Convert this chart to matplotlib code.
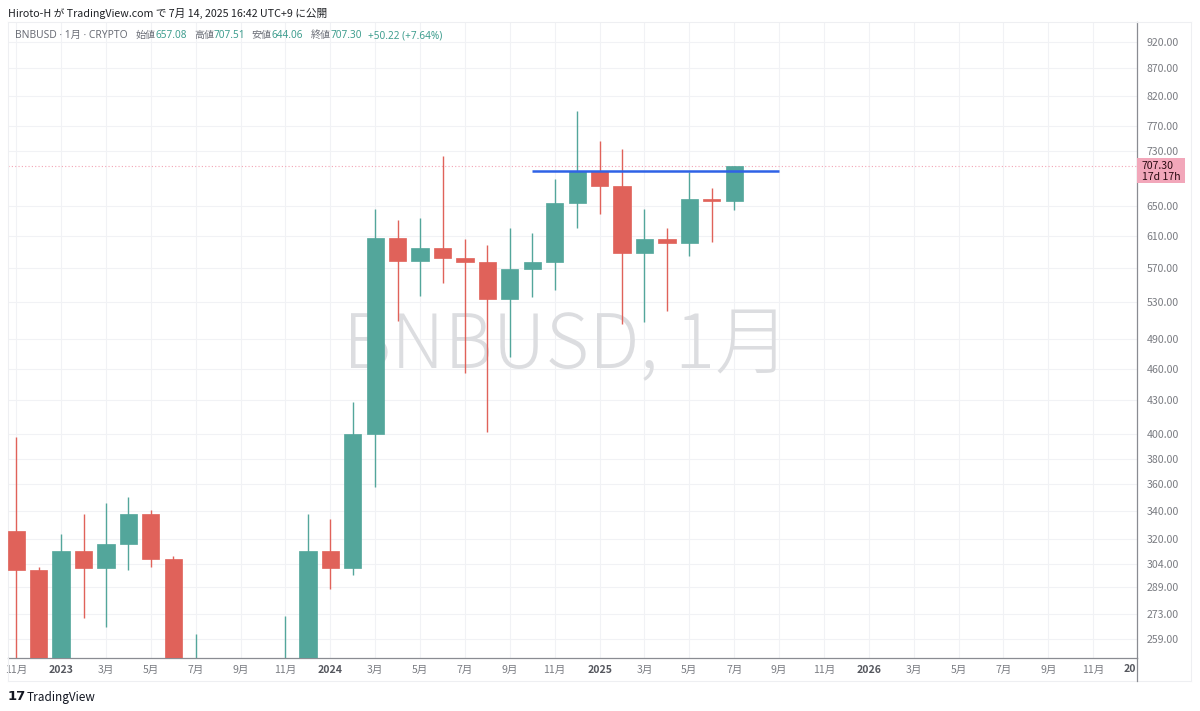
import matplotlib
matplotlib.use("Agg")
import matplotlib.pyplot as plt
from matplotlib.patches import Rectangle
import numpy as np

plt.rcParams['font.family'] = ['Noto Sans CJK JP', 'DejaVu Sans']

# ---- data (monthly BNBUSD, index 0 = Nov 2022) ----
months = ['2022-11', '2022-12', '2023-01', '2023-02', '2023-03', '2023-04', '2023-05',
          '2023-06', '2023-07', '2023-08', '2023-09', '2023-10', '2023-11', '2023-12',
          '2024-01', '2024-02', '2024-03', '2024-04', '2024-05', '2024-06', '2024-07',
          '2024-08', '2024-09', '2024-10', '2024-11', '2024-12', '2025-01', '2025-02',
          '2025-03', '2025-04', '2025-05', '2025-06', '2025-07']
opens = [326, 300, 246, 312, 301, 317, 338, 307, 240, 242, 216, 215, 227, 228,
         312, 301, 400, 607, 578, 594, 582, 577, 533, 568, 577, 654, 700, 678,
         588, 606, 600, 659, 657.08]
highs = [398, 302, 324, 338, 346, 350, 341, 309, 262, 245, 222, 230, 272, 338,
         334, 428, 645, 630, 633, 722, 606, 598, 620, 613, 688, 795, 746, 733,
         645, 620, 698, 675, 707.51]
lows = [240, 220, 237, 271, 266, 300, 302, 220, 226, 203, 202, 203, 223, 226,
        288, 297, 358, 509, 537, 552, 456, 402, 471, 535, 543, 620, 639, 506,
        508, 520, 584, 602, 644.06]
closes = [300, 246, 312, 301, 317, 338, 307, 240, 242, 216, 215, 227, 228, 312,
          301, 400, 607, 578, 594, 582, 577, 533, 568, 577, 654, 700, 678, 588,
          606, 600, 659, 657.08, 707.30]

y_ticks = [259, 273, 289, 304, 320, 340, 360, 380, 400, 430, 460, 490, 530, 570,
           610, 650, 730, 770, 820, 870, 920]
x_tick_labels = ['11月', '2023', '3月', '5月', '7月', '9月', '11月',
                 '2024', '3月', '5月', '7月', '9月', '11月',
                 '2025', '3月', '5月', '7月', '9月', '11月',
                 '2026', '3月', '5月', '7月', '9月', '11月']
resistance = 700.0
resistance_span = (23, 34)
last_price = 707.30

UP = '#53a69b'
DOWN = '#e0625a'

W, H = 1200, 711
fig = plt.figure(figsize=(12, 7.11), dpi=100)
fig.patch.set_facecolor('white')

L, R, T, B = 8, 1137, 22, 658
ax = fig.add_axes([L / W, 1 - B / H, (R - L) / W, (B - T) / H])
ax.set_yscale('log')
ax.set_xlim(-0.366, 49.95)
ax.set_ylim(248.8, 960)

# grid
for i in range(0, 50, 2):
    ax.axvline(i, color='#f1f2f5', lw=0.8, zorder=0)
for v in y_ticks:
    ax.axhline(v, color='#f1f2f5', lw=0.8, zorder=0)

# watermark
ax.text(0.495, 0.488, 'BNBUSD, 1月', transform=ax.transAxes, ha='center', va='center',
        fontsize=54, color='#dcdde0', zorder=1, fontweight='light')

x = np.arange(len(months))
o = np.array(opens); c = np.array(closes); h = np.array(highs); l = np.array(lows)
cols = [UP if ci >= oi else DOWN for oi, ci in zip(o, c)]
ax.vlines(x, l, h, colors=cols, lw=1.0, zorder=2)
bot = np.minimum(o, c)
hgt = np.maximum(np.abs(c - o), 1.2)
ax.bar(x, hgt, bottom=bot, width=0.77, color=cols, edgecolor=cols, linewidth=0.5, zorder=3)

# resistance line
ax.hlines(resistance, resistance_span[0], resistance_span[1], colors='#2f62e6', lw=1.8, zorder=4)
# last price dotted line
ax.axhline(last_price, color='#f3a5b5', lw=0.8, ls=(0, (1, 2)), zorder=1)

# axes styling
ax.set_yticks(y_ticks)
ax.set_yticklabels(['%.2f' % v for v in y_ticks])
ax.yaxis.set_minor_locator(matplotlib.ticker.NullLocator())
ax.yaxis.tick_right()
ax.tick_params(axis='y', length=0, pad=7, labelsize=7.6, labelcolor='#7a7c82')
ax.set_xticks(np.arange(0, 50, 2))
ax.set_xticklabels(x_tick_labels)
ax.tick_params(axis='x', length=0, pad=5, labelsize=7.6, labelcolor='#7a7c82')
for lbl in ax.get_xticklabels():
    if lbl.get_text().isdigit():
        lbl.set_fontweight('bold')
        lbl.set_color('#55575e')
for s in ['top', 'left']:
    ax.spines[s].set_color('#eeeff2')
    ax.spines[s].set_linewidth(0.8)
for s in ['right', 'bottom']:
    ax.spines[s].set_color('#8a8c92')
    ax.spines[s].set_linewidth(0.9)

# clipped "20" of 2027
fig.text((R - 1) / W, 1 - 669 / H, '20', ha='right', va='center', fontsize=7.6,
         fontweight='bold', color='#55575e')

# outer frame lines
fig.add_artist(plt.Line2D([R / W, 1191 / W], [1 - T / H, 1 - T / H], color='#eeeff2', lw=0.8))
fig.add_artist(plt.Line2D([1191 / W, 1191 / W], [1 - 681 / H, 1 - T / H], color='#eeeff2', lw=0.8))
fig.add_artist(plt.Line2D([L / W, 1191 / W], [1 - 681 / H, 1 - 681 / H], color='#eeeff2', lw=0.8))
fig.add_artist(plt.Line2D([L / W, L / W], [1 - 681 / H, 1 - B / H], color='#eeeff2', lw=0.8))
fig.add_artist(plt.Line2D([R / W, R / W], [1 - 681 / H, 1 - B / H], color='#8a8c92', lw=0.9))

# price label
fig.add_artist(Rectangle((R / W, 1 - 183 / H), 48 / W, 25 / H, transform=fig.transFigure,
                         facecolor='#f2a7ba', edgecolor='none'))
fig.text(1142 / W, 1 - 166 / H, '%.2f' % last_price, ha='left', va='center', fontsize=7.6,
         color='#2b0b12')
fig.text(1142 / W, 1 - 177.5 / H, '17d 17h', ha='left', va='center', fontsize=7.6,
         color='#2b0b12')

# header
fig.text(8 / W, 1 - 13 / H, 'Hiroto-H が TradingView.com で 7月 14, 2025 16:42 UTC+9 に公開',
         ha='left', va='center', fontsize=7.7, color='#1f2125')

renderer = fig.canvas.get_renderer()
y2 = 1 - 35.5 / H
gray = '#6c6f78'
teal = '#3f9e8f'
hdr_fam = ['Noto Sans', 'Noto Sans CJK JP']
t0 = fig.text(15 / W, y2, 'BNBUSD · 1月 · CRYPTO', ha='left', va='center', fontsize=7.4,
              color=gray, family=hdr_fam)
groups = [(136, '始値', '657.08', teal), (194, '高値', '707.51', teal),
          (251, '安値', '644.06', teal), (311, '終値', '707.30', teal),
          (368, '', '+50.22 (+7.64%)', teal)]
for px, lab, val, col in groups:
    xpos = px
    if lab:
        tl = fig.text(xpos / W, y2, lab, ha='left', va='center', fontsize=7.2, color=gray,
                      family=hdr_fam)
        xpos = tl.get_window_extent(renderer).x1
    fig.text(xpos / W, y2, val, ha='left', va='center', fontsize=7.2, color=col,
             family=hdr_fam)

# footer logo
fig.text(8 / W, 1 - 697 / H, '17', ha='left', va='center', fontsize=9.5, fontweight='heavy',
         color='#131722', family='DejaVu Sans')
fig.text(27 / W, 1 - 697 / H, 'TradingView', ha='left', va='center', fontsize=8.5,
         color='#131722')

fig.savefig('out.png', dpi=100)
